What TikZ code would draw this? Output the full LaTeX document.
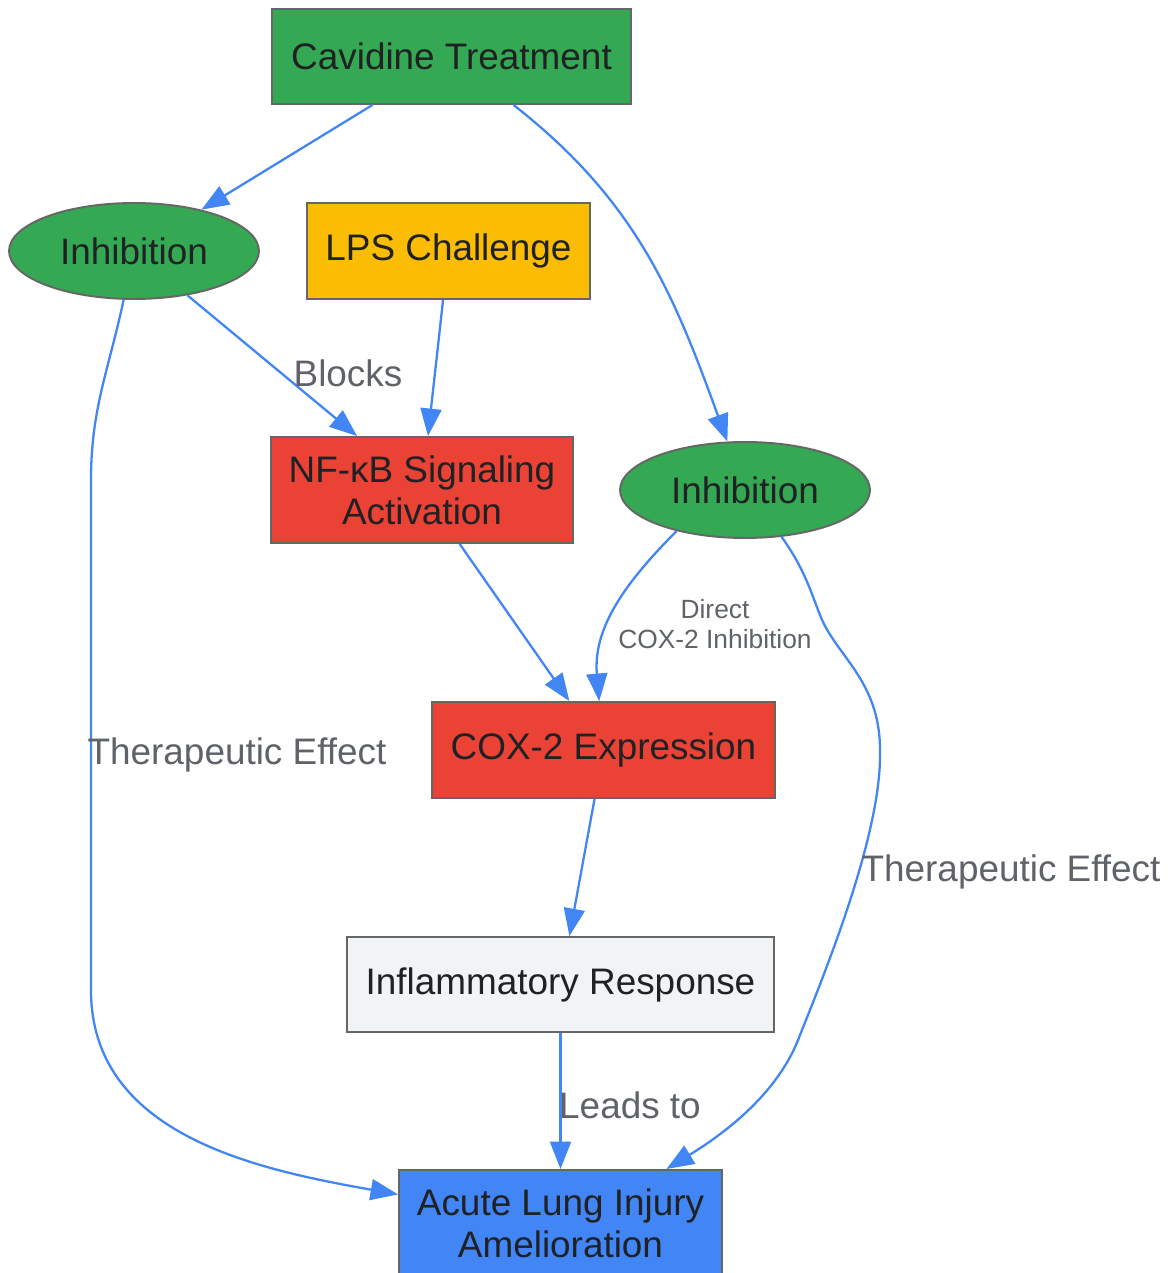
\documentclass[tikz,border=0pt]{standalone}
\usepackage{fontspec}
\setmainfont{Liberation Sans}
\usetikzlibrary{shapes.geometric,arrows.meta}
\definecolor{ggreen}{HTML}{34A853}
\definecolor{gyellow}{HTML}{FBBC04}
\definecolor{gred}{HTML}{EA4335}
\definecolor{glight}{HTML}{F1F3F4}
\definecolor{gblue}{HTML}{4285F4}
\definecolor{edgeblue}{HTML}{4285F4}
\definecolor{bordergray}{HTML}{666666}
\definecolor{textdark}{HTML}{202124}
\definecolor{labelgray}{HTML}{5F6368}
\begin{document}
\begin{tikzpicture}[x=0.02cm,y=0.02cm,
box/.style={draw=bordergray,line width=1.1pt,inner sep=0pt,align=center,text=textdark,font=\fontsize{21}{24}\selectfont},
oval/.style={ellipse,draw=bordergray,fill=ggreen,line width=1.1pt,inner sep=0pt,minimum width=5cm,minimum height=1.92cm,text=textdark,font=\fontsize{21}{24}\selectfont},
arr/.style={-{Triangle[length=0.55cm,width=0.42cm]},draw=edgeblue,line width=1.3pt},
lbl/.style={text=labelgray,font=\fontsize{21}{24}\selectfont},
smalllbl/.style={text=labelgray,align=center,font=\fontsize{15}{17.5}\selectfont}]
\useasboundingbox (0,0) rectangle (1167,-1273);

\node[box,fill=ggreen,minimum width=7.18cm,minimum height=1.9cm] (treat) at (451.5,-56.5) {Cavidine Treatment};
\node[oval] (inhibA) at (134,-251) {Inhibition};
\node[box,fill=gyellow,minimum width=5.66cm,minimum height=1.92cm] (lps) at (448.5,-251) {LPS Challenge};
\node[box,fill=gred,minimum width=6.04cm,minimum height=2.12cm] (nfkb) at (422,-490) {NF-κB Signaling\\Activation};
\node[oval] (inhibB) at (745,-490) {Inhibition};
\node[box,fill=gred,minimum width=6.86cm,minimum height=1.92cm] (cox) at (603.5,-750) {COX-2 Expression};
\node[box,fill=glight,minimum width=8.54cm,minimum height=1.9cm] (infl) at (560.5,-984.5) {Inflammatory Response};
\node[box,fill=gblue,minimum width=6.46cm,minimum height=2.12cm] (ali) at (560.5,-1223) {Acute Lung Injury\\Amelioration};

\coordinate (l1) at (91,-480);
\coordinate (l2) at (91,-990);
\coordinate (r1) at (820,-615);
\coordinate (r2) at (880,-750);
\coordinate (r3) at (800,-1035);

\draw[arr] (treat) -- (inhibA);
\draw[arr] (treat) to[out=-38,in=110] (inhibB);
\draw[arr] (inhibA) -- (nfkb);
\draw[arr] (lps) -- (nfkb);
\draw[arr] (nfkb) -- (cox);
\draw[arr] (inhibB.-149) to[out=-135,in=95] (cox);
\draw[arr] (cox) -- (infl);
\draw[arr] (infl) -- (ali);
\draw[arr] (inhibA) to[out=-102,in=90] (l1) -- (l2) to[out=-90,in=170] (ali);
\draw[arr] (inhibB.-52) .. controls (805,-570) and (810,-590) .. (r1) .. controls (835,-655) and (880,-680) .. (r2) .. controls (882,-830) and (830,-960) .. (r3) .. controls (780,-1090) and (730,-1130) .. (ali.27);

\node[lbl] (blocks) at (348,-373) {Blocks};
\node[smalllbl] (direct) at (715,-624) {Direct\\COX-2 Inhibition};
\node[lbl] (thereffA) at (237,-755) {Therapeutic Effect};
\node[lbl] (thereffB) at (1011,-872) {Therapeutic Effect};
\node[lbl] (leads) at (630,-1105) {Leads to};
\end{tikzpicture}
\end{document}
